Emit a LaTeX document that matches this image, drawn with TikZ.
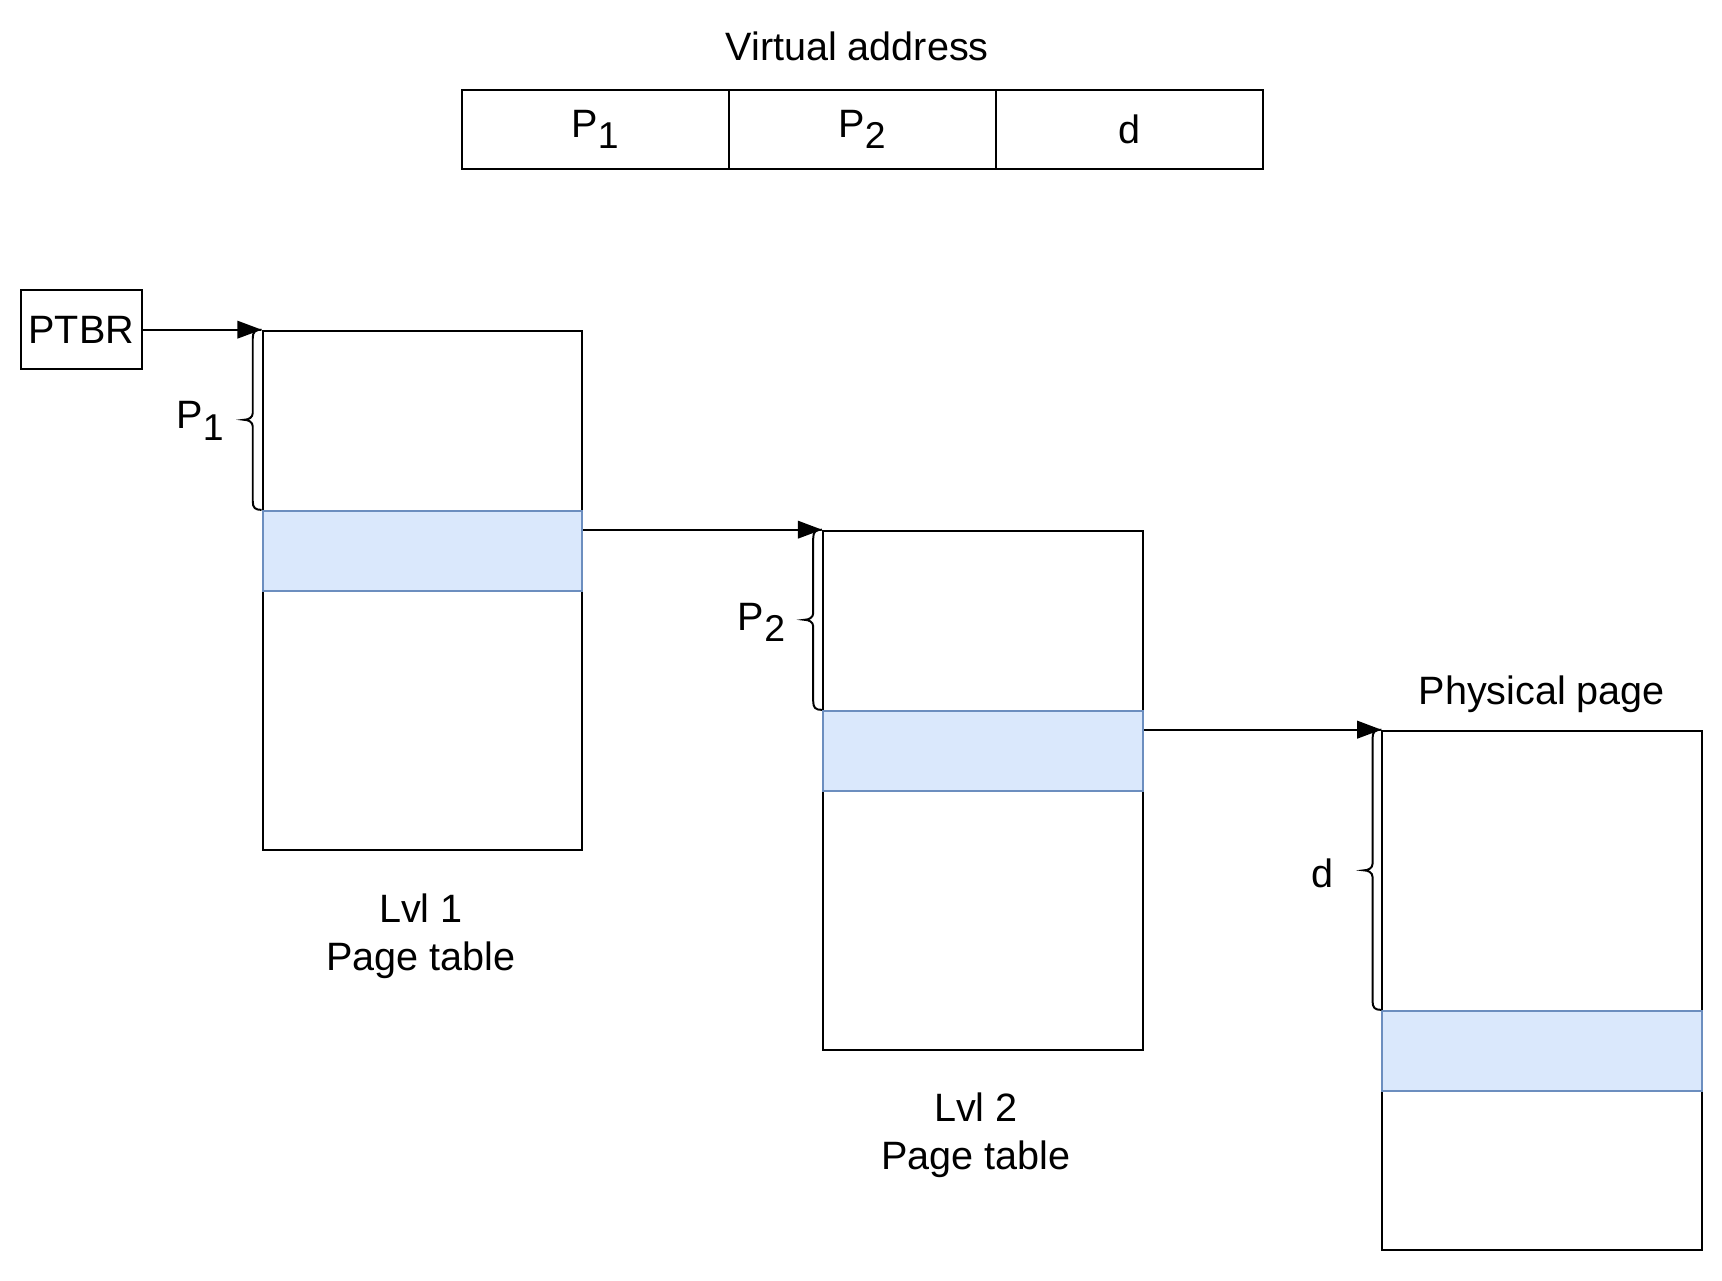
\documentclass[tikz,border=0pt]{standalone}
\usepackage{fontspec}
\setmainfont{Liberation Sans}
\usetikzlibrary{arrows.meta}
\definecolor{bandfill}{HTML}{DAE8FC}
\definecolor{banddraw}{HTML}{6C8EBF}
\newcommand{\subx}[1]{\raisebox{-0.28em}{\fontsize{17}{18}\selectfont #1}}
\tikzset{
  txt/.style={font=\fontsize{18}{22}\selectfont, inner sep=0pt, align=center},
  cell/.style={draw, line width=0.9pt, minimum width=121.5pt, minimum height=36pt, inner sep=0pt, font=\fontsize{18}{22}\selectfont},
  regbox/.style={draw, line width=0.9pt, minimum width=55pt, minimum height=36pt, inner sep=0pt, font=\fontsize{18}{22}\selectfont},
  tbl/.style={draw, line width=0.9pt, minimum width=145.5pt, minimum height=236.5pt, inner sep=0pt, anchor=north west},
  band/.style={draw=banddraw, fill=bandfill, line width=0.9pt, minimum width=145.5pt, minimum height=36.5pt, inner sep=0pt, anchor=north west},
  arr/.style={line width=0.9pt, -{Triangle[length=11pt,width=8pt]}},
  brc/.style={line width=0.9pt}
}
\begin{document}
\begin{tikzpicture}[x=0.5pt,y=-0.5pt]
\useasboundingbox (0,0) rectangle (1567,1165);
% virtual address
\node[txt] (vatitle) at (780,42) {Virtual address};
\node[cell] (va1) at (541.5,118) {P\subx{1}};
\node[cell] (va2) at (784.5,118) {P\subx{2}};
\node[cell] (va3) at (1027.5,118) {d};
% PTBR
\node[regbox] (ptbr) at (74,300) {PTBR};
% tables
\node[tbl] (t1) at (238,300) {};
\node[band] (b1) at (238,464) {};
\node[tbl] (t2) at (748,482) {};
\node[band] (b2) at (748,646) {};
\node[tbl] (pg) at (1257,664) {};
\node[band] (b3) at (1257,919) {};
% arrows
\draw[arr] (ptbr.east) -- (t1.north west);
\draw[arr] (t2.north west -| b1.east) -- (t2.north west);
\draw[arr] (pg.north west -| b2.east) -- (pg.north west);
% braces
\draw[brc] (238,300) .. controls (232,300) and (230,302) .. (230,308) -- (230,376)
  .. controls (230,380) and (226,382) .. (222,382) .. controls (226,382) and (230,384) .. (230,388)
  -- (230,456) .. controls (230,462) and (232,464) .. (238,464);
\draw[brc] (748,482) .. controls (742,482) and (740,484) .. (740,490) -- (740,558)
  .. controls (740,562) and (736,564) .. (732,564) .. controls (736,564) and (740,566) .. (740,570)
  -- (740,638) .. controls (740,644) and (742,646) .. (748,646);
\draw[brc] (1257,664) .. controls (1251,664) and (1249,666) .. (1249,672) -- (1249,786)
  .. controls (1249,790) and (1245,792) .. (1241,792) .. controls (1245,792) and (1249,794) .. (1249,798)
  -- (1249,911) .. controls (1249,917) and (1251,919) .. (1257,919);
% labels
\node[txt] (lp1) at (182,383) {P\subx{1}};
\node[txt] (lp2) at (693,566) {P\subx{2}};
\node[txt] (ld) at (1203,795) {d};
\node[txt] (lphys) at (1403,632) {Physical page};
\node[txt] (l1) at (383,852) {Lvl 1\\Page table};
\node[txt] (l2) at (888,1033) {Lvl 2\\Page table};
\end{tikzpicture}
\end{document}
